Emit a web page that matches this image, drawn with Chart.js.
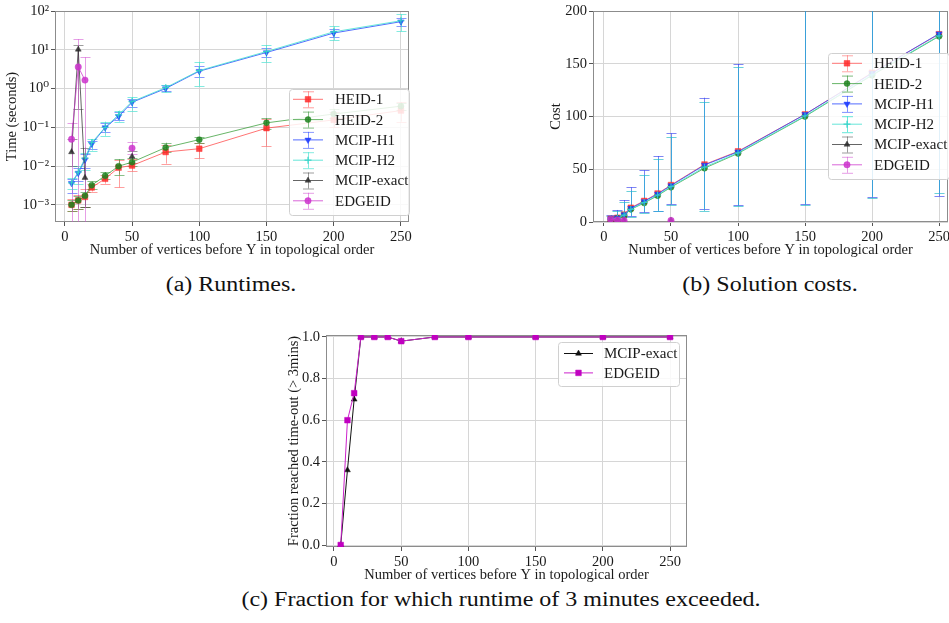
<!DOCTYPE html>
<html>
<head>
<meta charset="utf-8">
<script src="https://cdn.jsdelivr.net/npm/chart.js@4/dist/chart.umd.min.js"></script>
<style>
  html, body { margin: 0; padding: 0; background: #fff; overflow: hidden; }
  body { width: 949px; height: 623px; position: relative; }
  canvas { position: absolute; }
  .cap { position: absolute; font-family: "Liberation Serif", "Times New Roman", "DejaVu Serif", serif;
         font-size: 20px; line-height: 24px; color: #111; text-align: center; white-space: nowrap;
         transform: scaleX(1.2); transform-origin: center; }
</style>
</head>
<body>
<canvas id="runtimeChart" width="416" height="262" style="left:0px; top:0px;"></canvas>
<canvas id="costChart" width="415" height="262" style="left:540px; top:0px;"></canvas>
<canvas id="fractionChart" width="415" height="265" style="left:280px; top:322px;"></canvas>
<div class="cap" style="left:131px; width:200px; top:272px;">(a) Runtimes.</div>
<div class="cap" style="left:670px; width:200px; top:272px;">(b) Solution costs.</div>
<div class="cap" style="left:201px; width:600px; top:587px;">(c) Fraction for which runtime of 3 minutes exceeded.</div>

<script>
const xVals = [5, 10, 15, 20, 30, 40, 50, 75, 100, 150, 200, 250];
const xTicks = [0, 50, 100, 150, 200, 250];
const seriesNames = ['HEID-1', 'HEID-2', 'MCIP-H1', 'MCIP-H2', 'MCIP-exact', 'EDGEID'];

// runtimes (seconds)
const timeHeid1 = [0.001, 0.0013, 0.0016, 0.0028, 0.0047, 0.0091, 0.0103, 0.023, 0.028, 0.095, 0.155, 0.27];
const timeHeid1Lo = [0.0007, 0.0008, 0.0009, 0.0022, 0.0035, 0.0028, 0.0075, 0.0115, 0.016, 0.033, 0.1, 0.14];
const timeHeid1Hi = [0.0014, 0.0018, 0.0025, 0.0034, 0.006, 0.014, 0.015, 0.035, 0.04, 0.16, 0.25, 0.45];
const timeHeid2 = [0.001, 0.0013, 0.0017, 0.0032, 0.0056, 0.0099, 0.0126, 0.03, 0.048, 0.13, 0.22, 0.35];
const timeHeid2Lo = [0.0007, 0.0008, 0.0009, 0.0026, 0.0045, 0.006, 0.01, 0.023, 0.04, 0.09, 0.17, 0.28];
const timeHeid2Hi = [0.0013, 0.0017, 0.0022, 0.004, 0.007, 0.015, 0.016, 0.04, 0.055, 0.17, 0.3, 0.42];
const timeH1 = [0.0036, 0.0066, 0.0145, 0.037, 0.098, 0.19, 0.44, 1.0, 2.8, 8.5, 27, 53];
const timeH1Lo = [0.002, 0.004, 0.009, 0.028, 0.075, 0.15, 0.33, 0.85, 2.0, 6.5, 21, 40];
const timeH1Hi = [0.0045, 0.009, 0.02, 0.045, 0.13, 0.25, 0.55, 1.2, 3.8, 11, 35, 65];
const timeH2 = [0.0037, 0.007, 0.016, 0.04, 0.1, 0.21, 0.46, 1.05, 2.9, 9, 29, 56];
const timeH2Lo = [0.0025, 0.0035, 0.008, 0.025, 0.06, 0.14, 0.27, 0.8, 1.17, 4.9, 17.8, 30];
const timeH2Hi = [0.005, 0.01, 0.022, 0.05, 0.14, 0.27, 0.6, 1.25, 4.9, 13, 40, 82];
const timeExact = [0.023, 10.2, 0.005, null, null, null, 0.0176, null, null, null, null, null];
const timeExactLo = [0.01, 0.3, 0.0009, null, null, null, 0.012, null, null, null, null, null];
const timeExactHi = [0.05, 13, 0.03, null, null, null, 0.025, null, null, null, null, null];
const timeEdge = [0.049, 3.6, 1.65, null, null, null, 0.029, null, null, null, null, null];
const timeEdgeLo = [0.00001, 0.00001, 0.00001, null, null, null, 0.02, null, null, null, null, null];
const timeEdgeHi = [0.13, 18.7, 6.4, null, null, null, 0.042, null, null, null, null, null];
const timeTicks = [0.001, 0.01, 0.1, 1, 10, 100];

// solution costs
const costHeid1 = [3, 4, 7, 13.5, 20, 27, 35, 54.5, 67, 102, 141.5, 178];
const costHeid2 = [2.5, 3.5, 6, 12, 18, 25, 33, 51, 65, 100, 139, 176];
const costH1 = [3, 4, 7, 13, 19.5, 26.5, 34.5, 54, 66.5, 102, 141, 178.5];
const costH2 = [2.5, 3.5, 6.5, 12, 18.5, 25.5, 33.5, 52, 65.5, 100.5, 139.5, 176.5];
const costExact = [2, 2, 1.5, null, null, null, 1.5, null, null, null, null, null];
const costEdge = [2.5, 2, 1.5, null, null, null, 1.5, null, null, null, null, null];
const costH1Lo = [0, 0, 0, 5.7, 9.2, 10.7, 17, 12, 16, 17, 24, 24.6];
const costH1Hi = [6.6, 11.4, 20.8, 32.9, 49, 62.5, 84, 117.8, 150, 230, 260, 300];
const costH2Lo = [0, 0, 0, 5, 8.5, 10, 16.5, 10.4, 15, 16, 23, 27.8];
const costH2Hi = [6, 10.5, 19, 29.7, 44.5, 60, 81, 114, 147, 225, 255, 290];
const costTicks = [0, 50, 100, 150, 200];

// fraction reaching time-out
const fracExact = [0, 0.36, 0.70, 1, 1, 1, 0.98, 1, 1, 1, 1, 1];
const fracEdge = [0, 0.60, 0.73, 1, 1, 1, 0.98, 1, 1, 1, 1, 1];
const fracTicks = [0, 0.2, 0.4, 0.6, 0.8, 1.0];

const FONT = '"Liberation Serif", "Times New Roman", "DejaVu Serif", serif';
const TXT = '#1a1a1a';

function pts(arr) {
  return xVals.map((x, i) => ({ x: x, y: arr[i] }));
}

const supMap = { '-': '\u207B', '0': '\u2070', '1': '\u00B9', '2': '\u00B2', '3': '\u00B3' };
function powLabel(v) {
  const e = Math.round(Math.log10(v));
  return '10' + String(e).split('').map(c => supMap[c]).join('');
}

// error bars, drawn through the chart's scales
const errorBars = {
  id: 'errorBars',
  beforeDatasetsDraw(chart, args, opts) {
    const { ctx, chartArea: a } = chart;
    const xs = chart.scales.x, ys = chart.scales.y;
    const cap = opts.cap || 5;
    ctx.save();
    ctx.beginPath();
    ctx.rect(a.left, a.top, a.right - a.left, a.bottom - a.top);
    ctx.clip();
    chart.data.datasets.forEach(ds => {
      if (!ds.errLo) return;
      ctx.strokeStyle = ds.errColor;
      ctx.lineWidth = 1;
      ds.data.forEach((p, i) => {
        if (p.y == null || ds.errLo[i] == null) return;
        const px = Math.round(xs.getPixelForValue(p.x)) + 0.5;
        const y1 = ys.getPixelForValue(ds.errLo[i]);
        const y2 = ys.getPixelForValue(ds.errHi[i]);
        ctx.beginPath();
        ctx.moveTo(px, y1); ctx.lineTo(px, y2);
        ctx.moveTo(px - cap, Math.round(y1) + 0.5); ctx.lineTo(px + cap, Math.round(y1) + 0.5);
        ctx.moveTo(px - cap, Math.round(y2) + 0.5); ctx.lineTo(px + cap, Math.round(y2) + 0.5);
        ctx.stroke();
      });
    });
    ctx.restore();
  }
};

// axes frame like the matplotlib spines
const frame = {
  id: 'frame',
  beforeDatasetsDraw(chart) {
    const { ctx, chartArea: a } = chart;
    ctx.save();
    ctx.strokeStyle = '#8c8c8c';
    ctx.lineWidth = 1;
    ctx.strokeRect(a.left + 0.5, a.top + 0.5, a.right - a.left - 1, a.bottom - a.top - 1);
    ctx.restore();
  }
};

// legend inside the plot
const boxLegend = {
  id: 'boxLegend',
  afterDraw(chart, args, o) {
    if (!o || !o.width) return;
    const ctx = chart.ctx;
    ctx.save();
    ctx.fillStyle = 'rgba(255,255,255,0.85)';
    ctx.strokeStyle = '#d0d0d0';
    ctx.lineWidth = 1;
    ctx.beginPath();
    if (ctx.roundRect) ctx.roundRect(o.left + 0.5, o.top + 0.5, o.width, o.height, 3);
    else ctx.rect(o.left + 0.5, o.top + 0.5, o.width, o.height);
    ctx.fill();
    ctx.stroke();
    ctx.font = o.fontSize + 'px ' + FONT;
    ctx.textBaseline = 'middle';
    chart.data.datasets.forEach((ds, i) => {
      const y = o.top + o.firstRow + i * o.rowH;
      const x0 = o.left + o.handle0, x1 = o.left + o.handle1, mx = (x0 + x1) / 2;
      ctx.strokeStyle = ds.borderColor;
      ctx.lineWidth = ds.borderWidth || 1;
      ctx.beginPath(); ctx.moveTo(x0, y); ctx.lineTo(x1, y); ctx.stroke();
      if (o.errBars && ds.errColor) {
        ctx.strokeStyle = ds.legendErr || ds.errColor;
        ctx.lineWidth = 1;
        ctx.beginPath();
        ctx.moveTo(mx + 0.5, y - 8); ctx.lineTo(mx + 0.5, y + 8);
        ctx.moveTo(mx - 5, y - 7.5); ctx.lineTo(mx + 6, y - 7.5);
        ctx.moveTo(mx - 5, y + 8.5); ctx.lineTo(mx + 6, y + 8.5);
        ctx.stroke();
      }
      ctx.fillStyle = ds.pointBackgroundColor;
      ctx.strokeStyle = ds.pointBorderColor;
      ctx.lineWidth = ds.pointBorderWidth || 1;
      Chart.helpers.drawPoint(ctx, {
        pointStyle: ds.pointStyle, radius: ds.pointRadius,
        rotation: ds.pointRotation || 0, borderWidth: ds.pointBorderWidth || 1
      }, mx, y);
      ctx.fillStyle = TXT;
      ctx.fillText(ds.label, o.left + o.textX, y + 1);
    });
    ctx.restore();
  }
};

function series(label, data, color, errColor, lo, hi, style, radius, rotation) {
  return {
    label: label,
    data: pts(data),
    borderColor: color.line,
    borderWidth: 1,
    pointBackgroundColor: color.mark,
    pointBorderColor: color.mark,
    pointBorderWidth: style === 'cross' ? 1.2 : 0.5,
    pointStyle: style,
    pointRadius: radius,
    pointRotation: rotation || 0,
    errLo: lo, errHi: hi, errColor: errColor,
    spanGaps: false,
    tension: 0
  };
}

// later series drawn on top, as in the original plots
function stack(sets) {
  sets.forEach((ds, i) => { ds.order = sets.length - i; });
  return sets;
}

const red = { line: 'rgba(255,70,70,0.75)', mark: 'rgba(255,40,40,0.85)' };
const green = { line: 'rgba(40,150,40,0.7)', mark: 'rgba(30,130,30,0.85)' };
const blue = { line: 'rgba(40,70,255,0.8)', mark: 'rgba(30,60,255,0.9)' };
const cyan = { line: 'rgba(64,224,208,0.8)', mark: 'rgba(50,210,200,0.9)' };
const gray = { line: 'rgba(50,50,50,0.75)', mark: 'rgba(40,40,40,0.85)' };
const magenta = { line: 'rgba(204,51,204,0.75)', mark: 'rgba(204,51,204,0.85)' };

function axisFont(size) {
  return { family: FONT, size: size };
}

function xScale(min, max, titlePad) {
  return {
    type: 'linear', min: min, max: max,
    afterBuildTicks: s => { s.ticks = xTicks.map(v => ({ value: v })); },
    afterFit: s => { s.height = 40; },
    grid: { color: '#d6d6d6', lineWidth: 1, tickLength: 4, tickColor: '#555' },
    border: { display: false },
    ticks: { color: TXT, font: axisFont(14.5), padding: 2, maxRotation: 0 },
    title: { display: true, text: 'Number of vertices before Y in topological order', color: TXT, font: axisFont(14.5), padding: titlePad }
  };
}

function baseOptions(xs, ys, legendOpts, cap) {
  return {
    responsive: false,
    animation: false,
    events: [],
    layout: legendOpts.layout,
    scales: { x: xs, y: ys },
    plugins: {
      legend: { display: false },
      tooltip: { enabled: false },
      errorBars: { cap: cap },
      boxLegend: legendOpts.box
    }
  };
}

// (a) runtimes
new Chart(document.getElementById('runtimeChart'), {
  type: 'line',
  data: {
    datasets: stack([
      series(seriesNames[0], timeHeid1, red, 'rgba(255,80,80,0.55)', timeHeid1Lo, timeHeid1Hi, 'rect', 4),
      series(seriesNames[1], timeHeid2, green, 'rgba(40,140,40,0.55)', timeHeid2Lo, timeHeid2Hi, 'circle', 3),
      series(seriesNames[2], timeH1, blue, 'rgba(40,70,255,0.55)', timeH1Lo, timeH1Hi, 'triangle', 3.6, 180),
      series(seriesNames[3], timeH2, cyan, 'rgba(64,224,208,0.65)', timeH2Lo, timeH2Hi, 'cross', 3.5),
      series(seriesNames[4], timeExact, gray, 'rgba(60,60,60,0.5)', timeExactLo, timeExactHi, 'triangle', 3.4),
      series(seriesNames[5], timeEdge, magenta, 'rgba(210,80,210,0.55)', timeEdgeLo, timeEdgeHi, 'circle', 3.2)
    ])
  },
  options: baseOptions(
    xScale(-7.3, 256, 3),
    {
      type: 'logarithmic', min: 0.00036, max: 100,
      afterBuildTicks: s => { s.ticks = timeTicks.map(v => ({ value: v })); },
      afterFit: s => { s.width = 55; },
      grid: { color: '#d6d6d6', lineWidth: 1, tickLength: 4, tickColor: '#555' },
      border: { display: false },
      ticks: { color: TXT, font: axisFont(14.5), padding: 2, callback: v => powLabel(v) },
      title: { display: true, text: 'Time (seconds)', color: TXT, font: axisFont(14.5), padding: 3 }
    },
    {
      layout: { padding: { top: 11, right: 7, left: 0, bottom: 0 } },
      box: { left: 289, top: 89, width: 120, height: 126, firstRow: 10.3, rowH: 20.3,
             handle0: 4, handle1: 34, textX: 46, fontSize: 15, errBars: true }
    },
    5
  ),
  plugins: [frame, errorBars, boxLegend]
});

// (b) solution costs
const costSets = stack([
  series(seriesNames[0], costHeid1, red, 'rgba(255,80,80,0.15)', costH1Lo, costH1Hi, 'rect', 4),
  series(seriesNames[1], costHeid2, green, 'rgba(40,140,40,0.15)', costH2Lo, costH2Hi, 'circle', 3),
  series(seriesNames[2], costH1, blue, 'rgba(40,70,255,0.6)', costH1Lo, costH1Hi, 'triangle', 3.6, 180),
  series(seriesNames[3], costH2, cyan, 'rgba(30,190,215,0.6)', costH2Lo, costH2Hi, 'cross', 3.5),
  series(seriesNames[4], costExact, gray, null, null, null, 'triangle', 3.4),
  series(seriesNames[5], costEdge, magenta, null, null, null, 'circle', 3.2)
]);
costSets[0].legendErr = 'rgba(255,80,80,0.5)';
costSets[1].legendErr = 'rgba(40,140,40,0.6)';
costSets[3].legendErr = 'rgba(64,224,208,0.8)';
costSets[4].errColor = 'rgba(60,60,60,0.5)';
costSets[5].errColor = 'rgba(210,80,210,0.55)';

new Chart(document.getElementById('costChart'), {
  type: 'line',
  data: { datasets: costSets },
  options: baseOptions(
    xScale(-8.2, 256.7, 3),
    {
      type: 'linear', min: 0, max: 200,
      afterBuildTicks: s => { s.ticks = costTicks.map(v => ({ value: v })); },
      afterFit: s => { s.width = 53; },
      grid: { color: '#d6d6d6', lineWidth: 1, tickLength: 4, tickColor: '#555' },
      border: { display: false },
      ticks: { color: TXT, font: axisFont(14.5), padding: 2 },
      title: { display: true, text: 'Cost', color: TXT, font: axisFont(14.5), padding: 7 }
    },
    {
      layout: { padding: { top: 11, right: 7, left: 0, bottom: 0 } },
      box: { left: 288, top: 53, width: 121, height: 126, firstRow: 10.3, rowH: 20.3,
             handle0: 4, handle1: 34, textX: 46, fontSize: 15, errBars: true }
    },
    5
  ),
  plugins: [frame, errorBars, boxLegend]
});

// (c) fraction timed out
new Chart(document.getElementById('fractionChart'), {
  type: 'line',
  data: {
    datasets: stack([
      series(seriesNames[4], fracExact, { line: '#111', mark: '#111' }, null, null, null, 'triangle', 3.4),
      series(seriesNames[5], fracEdge, { line: '#cc22cc', mark: '#c000c0' }, null, null, null, 'rect', 4)
    ])
  },
  options: baseOptions(
    xScale(-5.95, 262.6, 3),
    {
      type: 'linear', min: -0.0096, max: 1.0096,
      afterBuildTicks: s => { s.ticks = fracTicks.map(v => ({ value: v })); },
      afterFit: s => { s.width = 46; },
      grid: { color: '#d6d6d6', lineWidth: 1, tickLength: 4, tickColor: '#555' },
      border: { display: false },
      ticks: { color: TXT, font: axisFont(14.5), padding: 2, callback: v => v.toFixed(1) },
      title: { display: true, text: 'Fraction reached time-out (> 3mins)', color: TXT, font: axisFont(14.5), padding: 5 }
    },
    {
      layout: { padding: { top: 13, right: 8, left: 0, bottom: 0 } },
      box: { left: 278, top: 20, width: 121, height: 44, firstRow: 11.5, rowH: 19.4,
             handle0: 6, handle1: 35, textX: 46, fontSize: 15, errBars: false }
    },
    5
  ),
  plugins: [frame, errorBars, boxLegend]
});
</script>
</body>
</html>
